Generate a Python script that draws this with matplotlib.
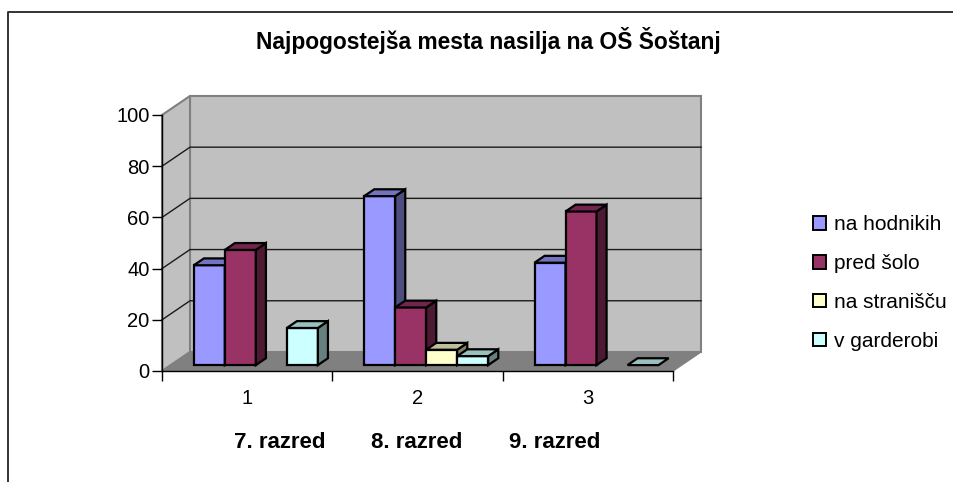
import matplotlib
matplotlib.use('Agg')
import matplotlib.pyplot as plt
from matplotlib.lines import Line2D
from matplotlib.patches import Patch, Polygon

plt.rcParams['font.family'] = ['Liberation Sans', 'DejaVu Sans']

W, H = 954, 482

title = 'Najpogostejša mesta nasilja na OŠ Šoštanj'
categories = ['1', '2', '3']
razredi = ['7. razred', '8. razred', '9. razred']
razred_px = [280, 417, 555]
series_names = ['na hodnikih', 'pred šolo', 'na stranišču', 'v garderobi']
na_hodnikih = [39, 66, 40]
pred_solo = [45, 22.5, 60]
na_stranisscu = [None, 6, None]
v_garderobi = [14.5, 3.5, 0]
series_values = [na_hodnikih, pred_solo, na_stranisscu, v_garderobi]
y_ticks = [0, 20, 40, 60, 80, 100]

face_colors = ['#9999FF', '#993366', '#FFFFCC', '#CCFFFF']
top_colors = ['#7373BF', '#73264D', '#BFBF99', '#99BFBF']
side_colors = ['#4D4D80', '#4D1A33', '#808066', '#668080']

# 3d look, in data units of the axes (x = categories, y = percent)
DX = 28 / 170.3
DY = 19 / 2.555
BAR_W = 31 / 170.3
GAP = (1 - 4 * BAR_W) / 2
FRONT = 0.31
BACK = 0.67


def poly(ax, pts, color, edge='black', lw=1.6, z=3):
    ax.add_patch(Polygon(pts, closed=True, facecolor=color, edgecolor=edge,
                         linewidth=lw, joinstyle='miter', clip_on=False, zorder=z))


def draw_walls(ax):
    n = len(categories)
    # back wall, side wall, floor
    poly(ax, [(DX, DY), (n + DX, DY), (n + DX, 100 + DY), (DX, 100 + DY)], '#C0C0C0', '#808080', 1.5, 1)
    poly(ax, [(0, 0), (DX, DY), (DX, 100 + DY), (0, 100)], '#C0C0C0', '#808080', 1.5, 1)
    poly(ax, [(0, 0), (n, 0), (n + DX, DY), (DX, DY)], '#808080', '#808080', 1, 1)
    for v in y_ticks[1:-1]:
        ax.plot([0, DX, n + DX], [v, v + DY, v + DY], color='#1A1A1A', lw=1.0,
                clip_on=False, zorder=2)


def draw_bar(ax, x, value, i):
    y0 = FRONT * DY
    x0 = x + FRONT * DX
    x1 = x0 + BAR_W
    y1 = y0 + value
    ox = (BACK - FRONT) * DX
    oy = (BACK - FRONT) * DY
    if value > 0:
        poly(ax, [(x0, y0), (x1, y0), (x1, y1), (x0, y1)], face_colors[i])
        poly(ax, [(x1, y0), (x1 + ox, y0 + oy), (x1 + ox, y1 + oy), (x1, y1)], side_colors[i])
    poly(ax, [(x0, y1), (x1, y1), (x1 + ox, y1 + oy), (x0 + ox, y1 + oy)], top_colors[i])


def main():
    fig = plt.figure(figsize=(W / 100, H / 100), dpi=100)
    ax = fig.add_axes([162 / W, 1 - 371 / H, (673 - 162) / W, (371 - 115) / H])
    ax.set_xlim(0, len(categories))
    ax.set_ylim(0, 100)
    ax.patch.set_visible(False)
    for s in ['top', 'right']:
        ax.spines[s].set_visible(False)
    for s in ['left', 'bottom']:
        ax.spines[s].set_linewidth(1.0)
        ax.spines[s].set_zorder(5)

    ax.set_yticks(y_ticks)
    ax.tick_params(axis='y', labelsize=14.5, length=7, width=1.0, pad=2)
    ax.set_xticks(range(len(categories) + 1))
    ax.set_xticklabels([])
    ax.set_xticks([i + 0.5 for i in range(len(categories))], minor=True)
    ax.set_xticklabels(categories, minor=True, fontsize=14.5)
    ax.tick_params(axis='x', which='major', length=7, width=1.0)
    ax.tick_params(axis='x', which='minor', length=0, pad=13)

    draw_walls(ax)
    for c in range(len(categories)):
        for i, vals in enumerate(series_values):
            if vals[c] is not None:
                draw_bar(ax, c + GAP + i * BAR_W, vals[c], i)

    fig.text(488 / W, 1 - 40 / H, title, ha='center', va='center', fontsize=16.4, fontweight='bold')
    for label, px in zip(razredi, razred_px):
        fig.text(px / W, 1 - 443 / H, label, ha='center', va='center', fontsize=16, fontweight='bold')

    # outer frame, only top and left show in the picture
    fig.add_artist(Line2D([8 / W, 8 / W, 1], [0, 1 - 12 / H, 1 - 12 / H], color='#333333', lw=1.4))

    handles = [Patch(facecolor=c, edgecolor='black', linewidth=1.4) for c in face_colors]
    fig.legend(handles, series_names, loc='center left', bbox_to_anchor=(813 / W, 1 - 283 / H),
               frameon=False, fontsize=15, handlelength=0.62, handleheight=0.62,
               handletextpad=0.38, labelspacing=0.95, borderpad=0, borderaxespad=0)

    fig.savefig('out.png', dpi=100)
    plt.close(fig)


if __name__ == '__main__':
    main()
